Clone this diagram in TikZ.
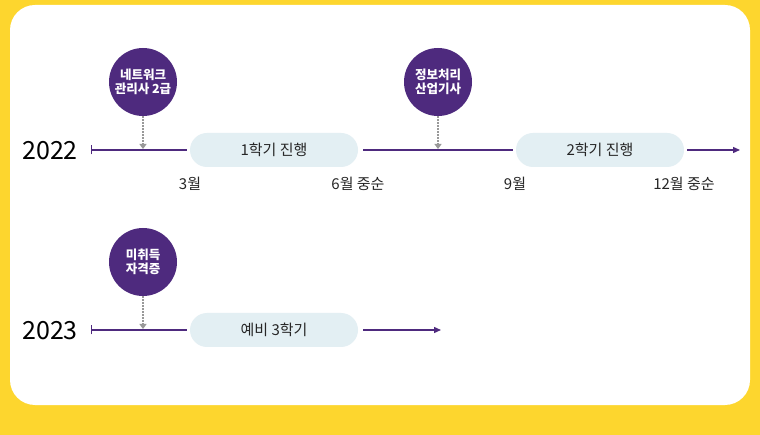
\documentclass[tikz,border=0pt]{standalone}
\usepackage{fontspec}
\setmainfont{Noto Sans CJK KR}
\usetikzlibrary{arrows.meta}
\definecolor{ylw}{HTML}{FDD62E}
\definecolor{pur}{HTML}{4E2A7E}
\definecolor{pill}{HTML}{E3EFF3}
\tikzset{
  circ/.style={circle,fill=pur,minimum size=68pt,inner sep=0pt,text=white,font=\fontsize{12.5}{14.5}\selectfont\bfseries,align=center},
  pillbox/.style={rounded corners=17pt,fill=pill,minimum width=168pt,minimum height=34pt,inner sep=0pt,font=\fontsize{15}{17}\selectfont,text=black!85},
  tl/.style={pur,line width=1.3pt},
  dot/.style={gray!80,line width=1.2pt,dash pattern=on 1.5pt off 1.5pt,-{Triangle[length=5pt,width=7pt]}},
  lab/.style={font=\fontsize{15}{17}\selectfont,text=black!85},
  yr/.style={font=\fontsize{25}{28}\selectfont,text=black},
  bar/.style={tl,{Bar[width=9pt]}-},
  arr/.style={tl,-{Triangle[length=7pt,width=6pt]}}
}
\begin{document}
\begin{tikzpicture}[x=1pt,y=-1pt]
\fill[ylw] (0,0) rectangle (760,435);
\fill[white,rounded corners=25pt] (10,5) rectangle (750,405);
% 2022
\node[yr] (y1) at (50,151) {2022};
\coordinate (s1) at (91,150);
\node[pillbox] (p1) at (274,150) {1학기 진행};
\node[pillbox] (p2) at (600,150) {2학기 진행};
\coordinate (e1) at (740,150);
\draw[bar] (s1) -- ([xshift=-3pt]p1.west);
\draw[tl] ([xshift=5pt]p1.east) -- ([xshift=-3pt]p2.west);
\draw[arr] ([xshift=3pt]p2.east) -- (e1);
\node[circ] (c1) at (143,82) {네트워크\\관리사 2급};
\node[circ] (c2) at (438,82) {정보처리\\산업기사};
\coordinate (d1) at (143,149);
\coordinate (d2) at (438,149);
\draw[dot] (c1.south) -- (d1);
\draw[dot] (c2.south) -- (d2);
\node[lab] (l1) at (190,184) {3월};
\node[lab] (l2) at (358,184) {6월 중순};
\node[lab] (l3) at (515,184) {9월};
\node[lab] (l4) at (684,184) {12월 중순};
% 2023
\node[yr] (y2) at (50,331) {2023};
\coordinate (s2) at (91,330);
\node[pillbox] (p3) at (274,330) {예비 3학기};
\coordinate (e2) at (441,330);
\draw[bar] (s2) -- ([xshift=-3pt]p3.west);
\draw[arr] ([xshift=5pt]p3.east) -- (e2);
\node[circ] (c3) at (143,262) {미취득\\자격증};
\coordinate (d3) at (143,329);
\draw[dot] (c3.south) -- (d3);
\end{tikzpicture}
\end{document}
